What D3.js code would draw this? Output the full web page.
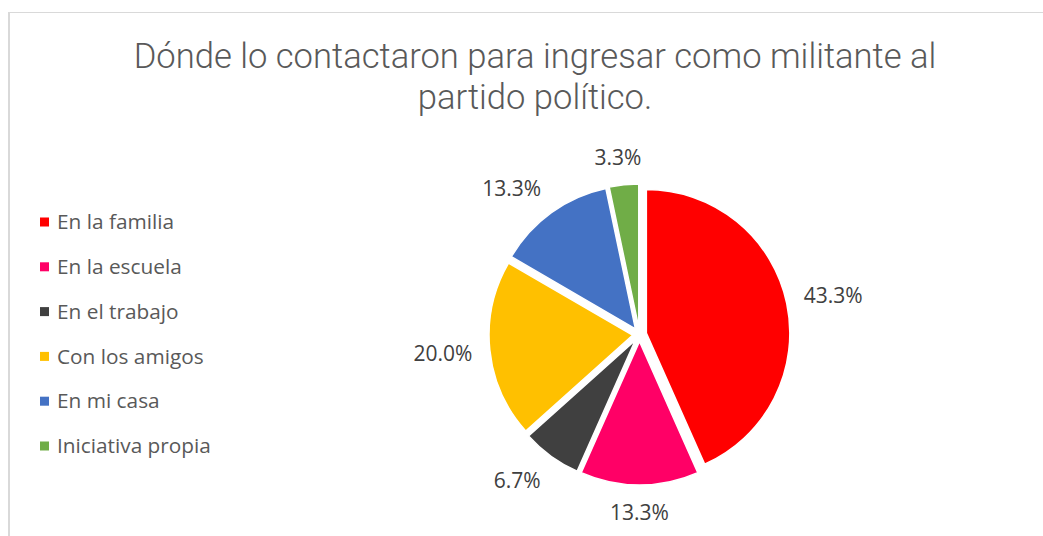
<!DOCTYPE html>
<html>
<head>
<meta charset="utf-8">
<script src="https://cdn.jsdelivr.net/npm/d3@7"></script>
<style>
  body { margin: 0; background: #fff; }
  svg { display: block; }
</style>
</head>
<body>
<svg></svg>
<script>
// data
var categories = ["En la familia", "En la escuela", "En el trabajo", "Con los amigos", "En mi casa", "Iniciativa propia"];
var values = [43.3, 13.3, 6.7, 20.0, 13.3, 3.3];
var colors = ["#FF0000", "#FF0066", "#404040", "#FFC000", "#4472C4", "#70AD47"];
var titleLines = ["Dónde lo contactaron para ingresar como militante al", "partido político."];

var width = 1043;
var height = 536;
var svg = d3.select("svg");
svg.attr("width", width).attr("height", height);

var font = "'Open Sans', sans-serif";

// chart border (left + top, the rest is cut off)
svg.append("line").attr("x1", 9).attr("x2", width).attr("y1", 12.5).attr("y2", 12.5)
    .attr("stroke", "#d9d9d9").attr("stroke-width", 1);
svg.append("line").attr("x1", 9).attr("x2", 9).attr("y1", 12).attr("y2", height)
    .attr("stroke", "#d9d9d9").attr("stroke-width", 2);

// title
var title = svg.append("g").selectAll("text")
    .data(titleLines)
    .enter().append("text")
    .attr("x", 535)
    .attr("y", function(d, i) { return 68 + i * 41; })
    .attr("text-anchor", "middle")
    .attr("font-family", "Roboto, sans-serif")
    .attr("font-weight", 300)
    .attr("font-size", 34.6)
    .attr("fill", "#595959")
    .text(function(d) { return d; });

// legend
var legendY = d3.scalePoint().domain(categories).range([222, 446]);
var legend = svg.append("g").selectAll("g")
    .data(categories)
    .enter().append("g")
    .attr("transform", function(d) { return "translate(40," + legendY(d) + ")"; });

legend.append("rect")
    .attr("x", 0).attr("y", -4.5)
    .attr("width", 9).attr("height", 9)
    .attr("fill", function(d, i) { return colors[i]; });

legend.append("text")
    .attr("x", 17)
    .attr("dy", "0.35em")
    .attr("font-family", font)
    .attr("font-size", 20.8)
    .attr("fill", "#595959")
    .text(function(d) { return d; });

// pie
var cx = 639.5, cy = 334.5, radius = 143.5, explode = 7, labelR = 168;

var pie = d3.pie().sort(null).value(function(d) { return d; });
var arc = d3.arc().innerRadius(0).outerRadius(radius);
var arcs = pie(values);

var group = svg.append("g").attr("transform", "translate(" + cx + "," + cy + ")");

function mid(d) { return (d.startAngle + d.endAngle) / 2; }

group.selectAll("path")
    .data(arcs)
    .enter().append("path")
    .attr("d", arc)
    .attr("transform", function(d) {
      var a = mid(d);
      return "translate(" + (Math.sin(a) * explode) + "," + (-Math.cos(a) * explode) + ")";
    })
    .attr("fill", function(d, i) { return colors[i]; })
    .attr("stroke", "#fff")
    .attr("stroke-width", 1.5)
    .attr("stroke-linejoin", "round");

// data labels, placed outside like excel's "outside end"
var labels = group.selectAll("text.lbl")
    .data(arcs)
    .enter().append("text")
    .attr("class", "lbl")
    .attr("font-family", font)
    .attr("font-size", 21)
    .attr("fill", "#404040")
    .attr("text-anchor", "middle")
    .attr("dy", "0.35em")
    .text(function(d) { return d.data.toFixed(1) + "%"; });

var clamp = function(v) { return Math.max(-1, Math.min(1, v * 1.7)); };
labels.each(function(d) {
  var a = mid(d);
  var w = this.getComputedTextLength();
  var h = 20;
  var x = Math.sin(a) * labelR + clamp(Math.sin(a)) * w / 2;
  var y = -Math.cos(a) * labelR + clamp(-Math.cos(a)) * h / 2;
  d3.select(this).attr("x", x).attr("y", y);
});
</script>
</body>
</html>
